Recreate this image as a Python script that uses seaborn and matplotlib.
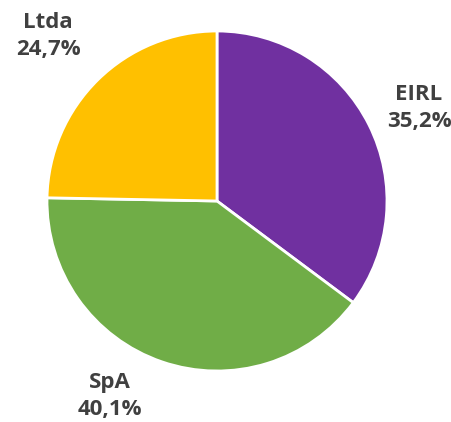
import matplotlib
matplotlib.use("Agg")
import matplotlib.pyplot as plt
import seaborn as sns

# data
labels = ["EIRL", "SpA", "Ltda"]
shares = [35.2, 40.1, 24.7]
colors = ["#7030A0", "#70AD47", "#FFC000"]

sns.set_theme(style="white")
plt.rcParams['font.family'] = ['Open Sans', 'DejaVu Sans']

W, H = 452, 422
fig = plt.figure(figsize=(W / 100, H / 100), dpi=100)
cx, cy, r = 217, 201, 170
ax = fig.add_axes([(cx - r) / W, (H - cy - r) / H, 2 * r / W, 2 * r / H])

wedges, _ = ax.pie(shares, colors=colors, startangle=90, counterclock=False,
                   radius=1, wedgeprops=dict(edgecolor="white", linewidth=2))
ax.set_xlim(-1, 1)
ax.set_ylim(-1, 1)
ax.set_aspect("equal")
ax.axis("off")

# label positions in pixels of the original picture
label_px = [(419, 108), (110, 396), (48, 36)]
for lab, val, (px, py) in zip(labels, shares, label_px):
    txt = f"{lab}\n{val:.1f}%".replace(".", ",")
    ax.text((px - cx) / r, (cy - py) / r, txt, ha="center", va="center",
            fontsize=16, fontweight="bold", color="#404040",
            linespacing=1.32, clip_on=False)

fig.savefig("out.png", dpi=100)
